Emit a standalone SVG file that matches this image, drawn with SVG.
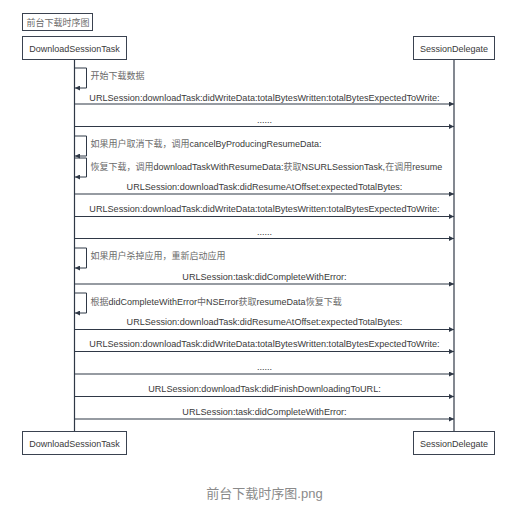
<svg xmlns="http://www.w3.org/2000/svg" width="513" height="513" viewBox="0 0 513 513">
<defs>
<style>
text{font-family:"Liberation Sans","Noto Sans CJK SC",sans-serif;font-size:9px;fill:#3a3a3a}
.m{font-size:9.1px}
.zh{fill:#6a6a6a}
.box{fill:#fff;stroke:#3a4250;stroke-width:1}
.life{stroke:#2f3846;stroke-width:1.2;fill:none}
.msg{stroke:#2f3846;stroke-width:1.2;fill:none;marker-end:url(#ah)}
.self{stroke:#2f3846;stroke-width:1;fill:none;marker-end:url(#ah)}
.c{text-anchor:middle}
.cap{font-size:13px;fill:#8a8a8a}
</style>
<marker id="ah" viewBox="0 0 10 10" refX="10" refY="5" markerWidth="5" markerHeight="5" orient="auto" markerUnits="userSpaceOnUse">
<path d="M0,0 L10,5 L0,10 z" fill="#2f3846"/>
</marker>
</defs>
<rect width="513" height="513" fill="#fff"/>
<g id="title">
<rect class="box" x="22.5" y="13.5" width="70" height="17" stroke="#666"/>
<text x="26.5" y="25.5" class="zh">前台下载时序图</text>
</g>
<g id="lifelines">
<line class="life" x1="74.5" y1="59.5" x2="74.5" y2="431"/>
<line class="life" x1="454" y1="59.5" x2="454" y2="431"/>
</g>
<g id="DownloadSessionTask-top">
<rect class="box" x="22.5" y="36.5" width="104" height="23"/>
<text class="c" x="74.5" y="51.5">DownloadSessionTask</text>
</g>
<g id="SessionDelegate-top">
<rect class="box" x="413.5" y="36.5" width="81" height="23"/>
<text class="c" x="454" y="51.5">SessionDelegate</text>
</g>
<g id="DownloadSessionTask-bottom">
<rect class="box" x="22.5" y="431.5" width="104" height="23"/>
<text class="c" x="74.5" y="446.5">DownloadSessionTask</text>
</g>
<g id="SessionDelegate-bottom">
<rect class="box" x="413.5" y="431.5" width="81" height="23"/>
<text class="c" x="454" y="446.5">SessionDelegate</text>
</g>
<g id="connectors">
<path class="self" d="M74.5,68 H86.5 V88 H75"/>
<line class="msg" x1="74.5" y1="104" x2="454" y2="104"/>
<line class="msg" x1="74.5" y1="126.5" x2="454" y2="126.5"/>
<path class="self" d="M74.5,136 H86.5 V156 H75"/>
<path class="self" d="M74.5,158 H86.5 V177 H75"/>
<line class="msg" x1="74.5" y1="194" x2="454" y2="194"/>
<line class="msg" x1="74.5" y1="216.5" x2="454" y2="216.5"/>
<line class="msg" x1="74.5" y1="238.5" x2="454" y2="238.5"/>
<path class="self" d="M74.5,248 H86.5 V268 H75"/>
<line class="msg" x1="74.5" y1="284" x2="454" y2="284"/>
<path class="self" d="M74.5,293 H86.5 V313 H75"/>
<line class="msg" x1="74.5" y1="329.5" x2="454" y2="329.5"/>
<line class="msg" x1="74.5" y1="351.5" x2="454" y2="351.5"/>
<line class="msg" x1="74.5" y1="374" x2="454" y2="374"/>
<line class="msg" x1="74.5" y1="396.5" x2="454" y2="396.5"/>
<line class="msg" x1="74.5" y1="419" x2="454" y2="419"/>
</g>
<g id="labels">
<text x="90.5" y="79" class="zh">开始下载数据</text>
<text class="c m" x="264.5" y="100.5">URLSession:downloadTask:didWriteData:totalBytesWritten:totalBytesExpectedToWrite:</text>
<text class="c m" x="264.5" y="123">......</text>
<text x="90.5" y="147"><tspan class="zh">如果用户取消下载，调用</tspan>cancelByProducingResumeData:</text>
<text x="90.5" y="169.5"><tspan class="zh">恢复下载，调用</tspan>downloadTaskWithResumeData:<tspan class="zh">获取</tspan>NSURLSessionTask,<tspan class="zh">在调用</tspan>resume</text>
<text class="c m" x="264.5" y="189.5">URLSession:downloadTask:didResumeAtOffset:expectedTotalBytes:</text>
<text class="c m" x="264.5" y="212">URLSession:downloadTask:didWriteData:totalBytesWritten:totalBytesExpectedToWrite:</text>
<text class="c m" x="264.5" y="235">......</text>
<text x="90.5" y="259" class="zh">如果用户杀掉应用，重新启动应用</text>
<text class="c m" x="264.5" y="279.5">URLSession:task:didCompleteWithError:</text>
<text x="90.5" y="304.5"><tspan class="zh">根据</tspan>didCompleteWithError<tspan class="zh">中</tspan>NSError<tspan class="zh">获取</tspan>resumeData<tspan class="zh">恢复下载</tspan></text>
<text class="c m" x="264.5" y="325">URLSession:downloadTask:didResumeAtOffset:expectedTotalBytes:</text>
<text class="c m" x="264.5" y="347">URLSession:downloadTask:didWriteData:totalBytesWritten:totalBytesExpectedToWrite:</text>
<text class="c m" x="264.5" y="369.5">......</text>
<text class="c m" x="264.5" y="392">URLSession:downloadTask:didFinishDownloadingToURL:</text>
<text class="c m" x="264.5" y="415">URLSession:task:didCompleteWithError:</text>
</g>
<text class="cap" x="264.5" y="498" text-anchor="middle">前台下载时序图.png</text>
</svg>
